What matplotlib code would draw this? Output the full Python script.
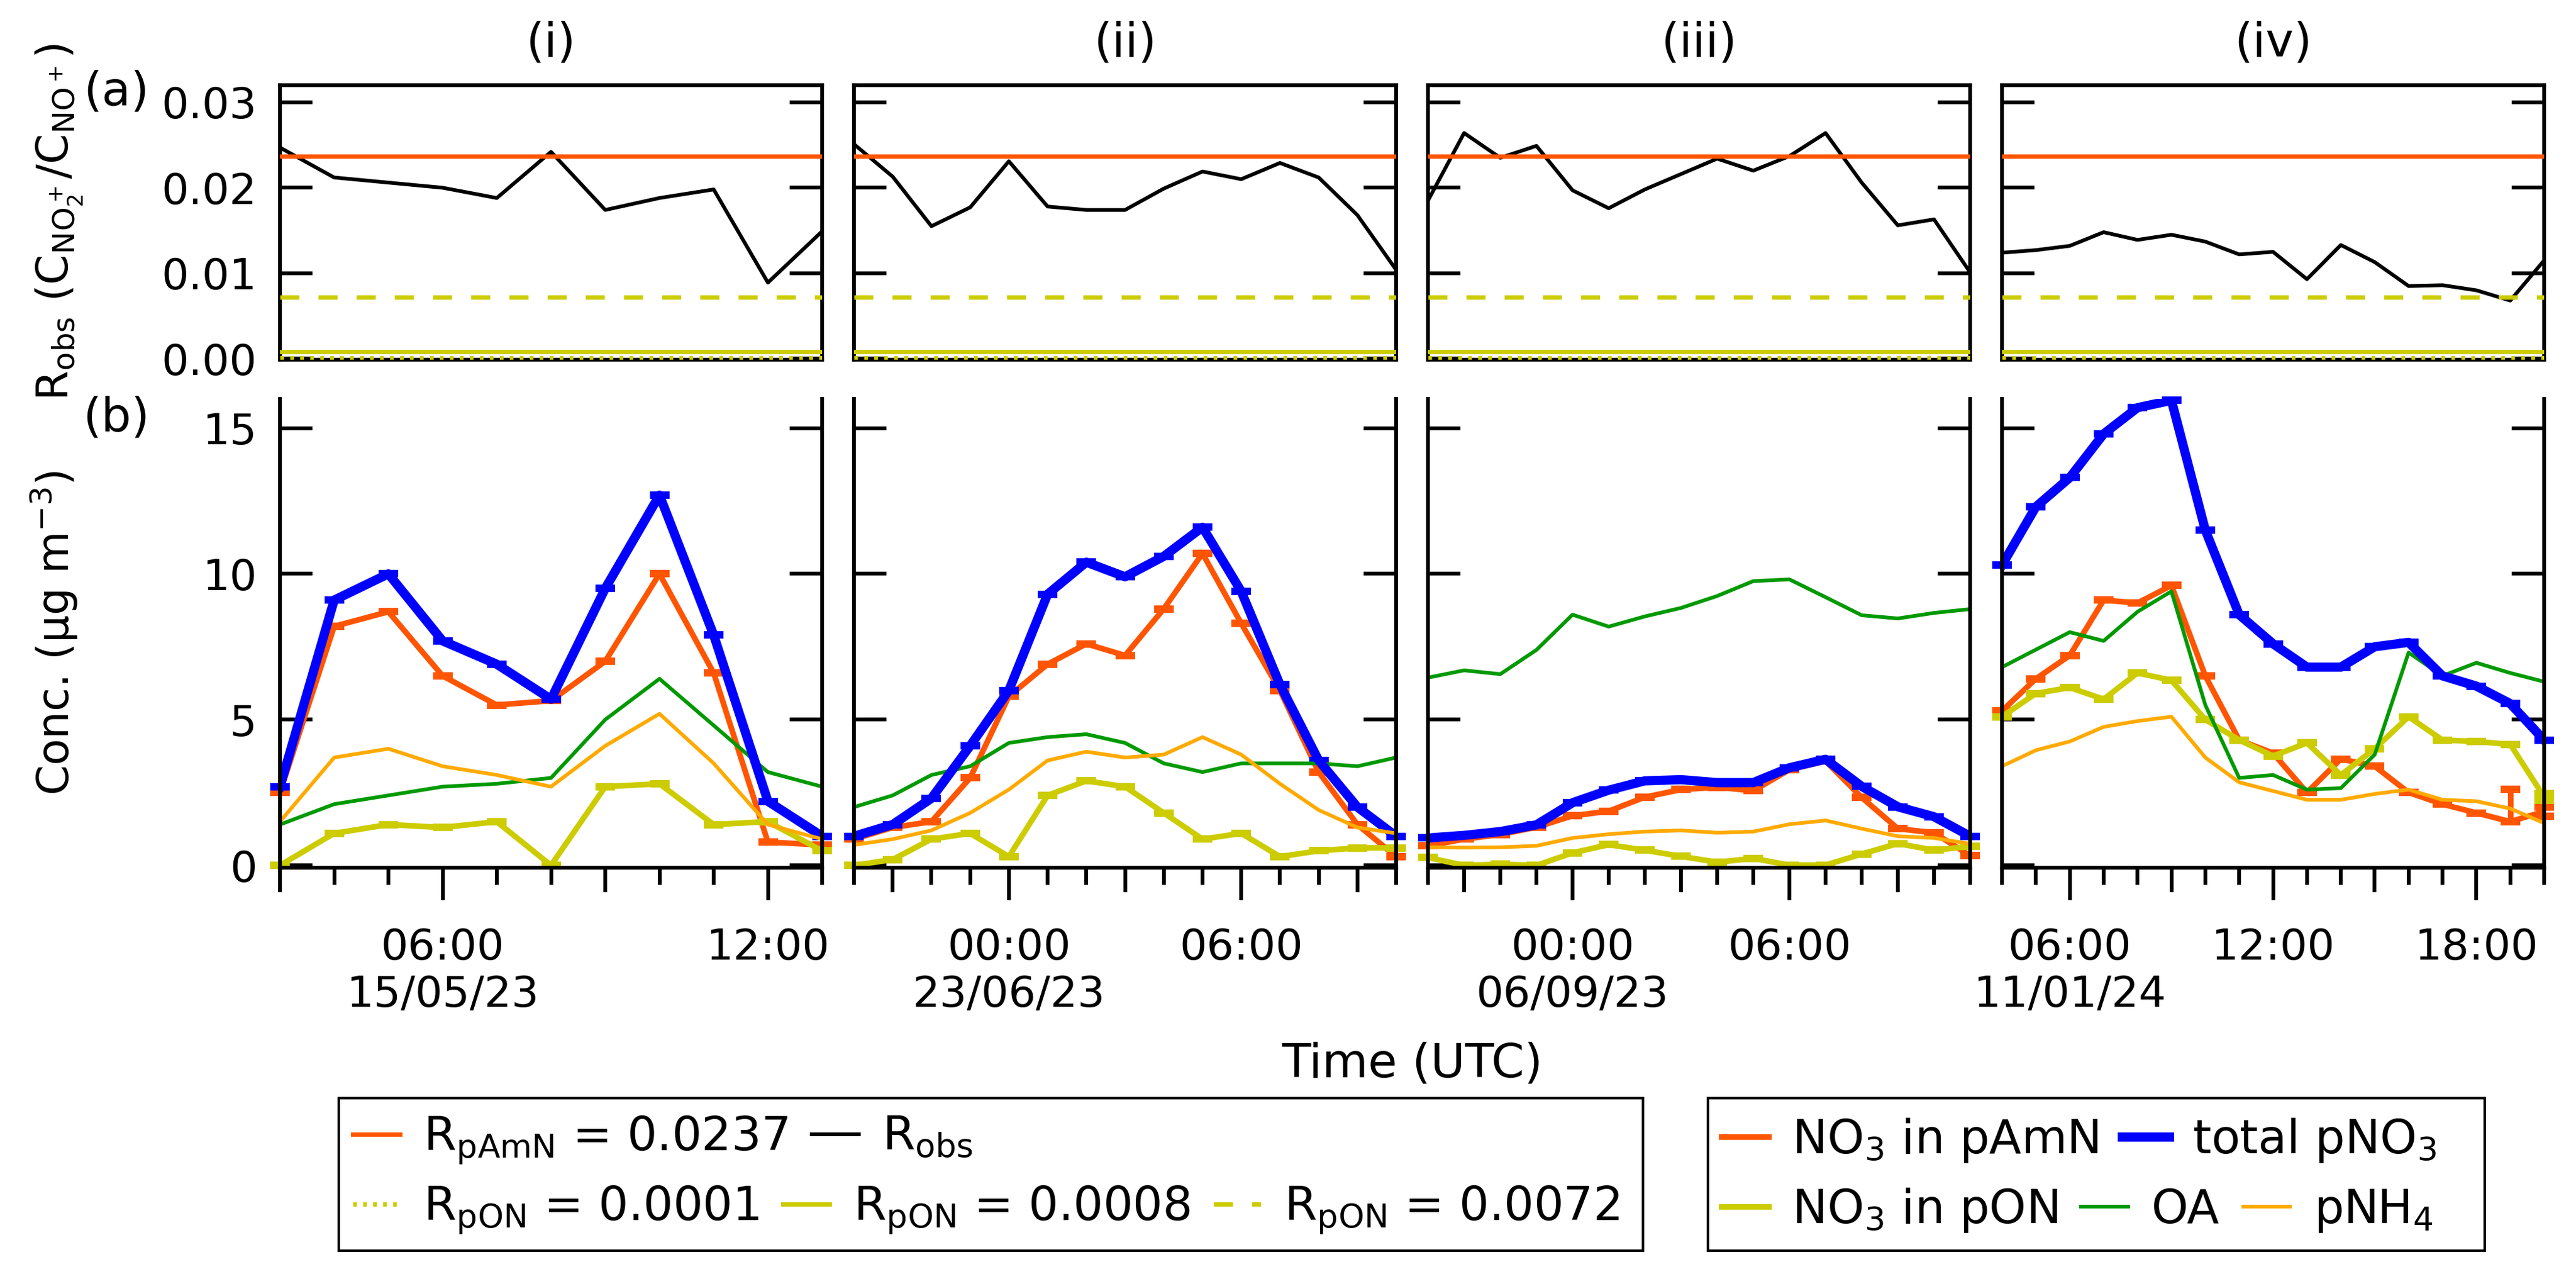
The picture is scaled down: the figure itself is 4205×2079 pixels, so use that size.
import matplotlib
matplotlib.use('Agg')
import matplotlib.pyplot as plt
import matplotlib.dates as mdates
from matplotlib.ticker import FuncFormatter
from matplotlib.patches import Rectangle
import numpy as np
import pandas as pd

plt.rcParams['font.family'] = ['DejaVu Sans']
plt.rcParams['mathtext.default'] = 'regular'

# ---------------- data ----------------
panel_names = ['(i)', '(ii)', '(iii)', '(iv)']
start_times = ['2023-05-15 03:00', '2023-06-22 20:00', '2023-09-05 20:00', '2024-01-11 04:00']

r_pamn = 0.0237
r_pon = [0.0001, 0.0008, 0.0072]

# (i) 15/05/23
r_obs_i = [0.0247, 0.0212, 0.0206, 0.0200, 0.0188, 0.0242, 0.0174, 0.0188, 0.0198, 0.0089, 0.0149]
total_i = [2.7, 9.1, 10.0, 7.7, 6.9, 5.7, 9.5, 12.7, 7.9, 2.2, 1.0]
pamn_i = [2.5, 8.2, 8.7, 6.5, 5.5, 5.65, 7.0, 10.0, 6.6, 0.8, 0.7]
pon_i = [0.0, 1.1, 1.4, 1.3, 1.5, 0.0, 2.7, 2.8, 1.4, 1.5, 0.5]
oa_i = [1.4, 2.1, 2.4, 2.7, 2.8, 3.0, 5.0, 6.4, 4.8, 3.2, 2.7]
nh4_i = [1.5, 3.7, 4.0, 3.4, 3.1, 2.7, 4.1, 5.2, 3.5, 1.4, 0.9]

# (ii) 23/06/23
r_obs_ii = [0.0251, 0.0213, 0.0155, 0.0177, 0.0231, 0.0178, 0.0174, 0.0174, 0.0199, 0.0219,
            0.0210, 0.0229, 0.0212, 0.0168, 0.0104]
total_ii = [1.0, 1.4, 2.3, 4.1, 6.0, 9.3, 10.4, 9.9, 10.6, 11.6, 9.4, 6.2, 3.6, 2.0, 1.0]
pamn_ii = [0.9, 1.3, 1.5, 3.0, 5.8, 6.9, 7.6, 7.2, 8.8, 10.7, 8.3, 6.0, 3.2, 1.4, 0.3]
pon_ii = [0.0, 0.2, 0.9, 1.1, 0.3, 2.4, 2.9, 2.7, 1.8, 0.9, 1.1, 0.3, 0.5, 0.6, 0.6]
oa_ii = [2.0, 2.4, 3.1, 3.4, 4.2, 4.4, 4.5, 4.2, 3.5, 3.2, 3.5, 3.5, 3.5, 3.4, 3.7]
nh4_ii = [0.7, 0.9, 1.2, 1.8, 2.6, 3.6, 3.9, 3.7, 3.8, 4.4, 3.8, 2.8, 1.9, 1.3, 1.1]

# (iii) 06/09/23
r_obs_iii = [0.0185, 0.0264, 0.0235, 0.0249, 0.0197, 0.0176, 0.0198, 0.0216, 0.0234, 0.0220,
             0.0237, 0.0264, 0.0206, 0.0156, 0.0163, 0.0101]
total_iii = [0.94, 1.03, 1.16, 1.39, 2.15, 2.58, 2.90, 2.94, 2.84, 2.84, 3.35, 3.64, 2.71, 2.01, 1.67, 1.0]
pamn_iii = [0.67, 0.9, 1.06, 1.31, 1.70, 1.86, 2.34, 2.6, 2.68, 2.56, 3.28, 3.58, 2.33, 1.26, 1.12, 0.33]
pon_iii = [0.27, 0.0, 0.04, 0.0, 0.43, 0.71, 0.52, 0.31, 0.11, 0.24, 0.01, 0.01, 0.39, 0.75, 0.52, 0.65]
oa_iii = [6.44, 6.69, 6.56, 7.39, 8.60, 8.19, 8.54, 8.83, 9.24, 9.75, 9.81, 9.2, 8.58, 8.47, 8.66, 8.79]
nh4_iii = [0.62, 0.61, 0.62, 0.67, 0.94, 1.07, 1.16, 1.2, 1.12, 1.16, 1.41, 1.54, 1.26, 1.0, 0.94, 0.74]

# (iv) 11/01/24
r_obs_iv = [0.0124, 0.0127, 0.0132, 0.0148, 0.0139, 0.0145, 0.0137, 0.0122, 0.0125, 0.0093,
            0.0133, 0.0113, 0.0085, 0.0086, 0.0080, 0.0068, 0.0115]
total_iv = [10.3, 12.3, 13.3, 14.8, 15.7, 15.95, 11.5, 8.6, 7.6, 6.8, 6.8, 7.5, 7.65, 6.5, 6.15, 5.55, 4.3]
pamn_iv = [5.3, 6.4, 7.2, 9.1, 9.0, 9.6, 6.5, 4.3, 3.85, 2.5, 3.65, 3.4, 2.5, 2.1, 1.8, 1.5, 1.85]
pon_iv = [5.1, 5.9, 6.1, 5.7, 6.6, 6.35, 5.0, 4.3, 3.75, 4.2, 3.1, 4.0, 5.1, 4.3, 4.25, 4.15, 2.35]
oa_iv = [6.8, 7.4, 8.0, 7.7, 8.7, 9.4, 5.5, 3.0, 3.1, 2.6, 2.65, 3.8, 7.3, 6.5, 6.95, 6.6, 6.3]
nh4_iv = [3.4, 3.95, 4.25, 4.75, 4.95, 5.1, 3.7, 2.85, 2.55, 2.25, 2.25, 2.45, 2.6, 2.25, 2.2, 1.95, 1.45]

# error bars (lower, upper); only a few are visible
pamn_err_lo_iv = [0] * 16 + [0.16]
pamn_err_hi_iv = [0] * 15 + [1.1, 0.16]
pon_err_iv = [0] * 16 + [0.12]

r_obs_all = [r_obs_i, r_obs_ii, r_obs_iii, r_obs_iv]
total_all = [total_i, total_ii, total_iii, total_iv]
pamn_all = [pamn_i, pamn_ii, pamn_iii, pamn_iv]
pon_all = [pon_i, pon_ii, pon_iii, pon_iv]
oa_all = [oa_i, oa_ii, oa_iii, oa_iv]
nh4_all = [nh4_i, nh4_ii, nh4_iii, nh4_iv]

c_amn = '#FF5500'
c_tot = '#0000FF'
c_pon = '#CCCC00'
c_oa = '#009900'
c_nh4 = '#FFAA00'

# ---------------- figure ----------------
W, H = 4205, 2079
fig = plt.figure(figsize=(W / 300, H / 300), dpi=300)

left0, step, width = 457, 937, 885
tick_fs = 16.8
lab_fs = 18.5


def time_label(x, pos):
    d = mdates.num2date(x)
    s = d.strftime('%H:%M')
    if pos == 0:
        s += '\n' + d.strftime('%d/%m/%y')
    return s


bottom_axes = []
for k in range(4):
    x0 = (left0 + k * step) / W
    ax_top = fig.add_axes([x0, 1 - 587 / H, width / W, 448 / H])
    ax_bot = fig.add_axes([x0, 1 - 1416 / H, width / W, 765 / H], sharex=ax_top)
    bottom_axes.append(ax_bot)

    t = pd.date_range(start_times[k], periods=len(r_obs_all[k]), freq='h').to_pydatetime()
    n = len(t)

    # ---- (a) ratio panel
    h_obs, = ax_top.plot(t, r_obs_all[k], color='black', lw=1.45, zorder=2)
    h_amn = ax_top.axhline(r_pamn, color=c_amn, lw=1.7, zorder=3)
    h_p1 = ax_top.axhline(r_pon[0], color=c_pon, lw=1.7, ls=(0, (0.85, 1.45)), zorder=3)
    h_p2 = ax_top.axhline(r_pon[1], color=c_pon, lw=1.7, zorder=3)
    h_p3 = ax_top.axhline(r_pon[2], color=c_pon, lw=1.7, ls=(0, (4.4, 4.4)), zorder=3)

    # ---- (b) concentration panel
    if k == 3:
        err_amn = [pamn_err_lo_iv, pamn_err_hi_iv]
        err_pon = [pon_err_iv, pon_err_iv]
    else:
        err_amn = [np.zeros(n), np.zeros(n)]
        err_pon = [np.zeros(n), np.zeros(n)]
    zero = [np.zeros(n), np.zeros(n)]

    eb_amn = ax_bot.errorbar(t, pamn_all[k], yerr=err_amn, color=c_amn, lw=2.2,
                             elinewidth=2.2, capsize=3.85, capthick=2.9, zorder=2)
    eb_pon = ax_bot.errorbar(t, pon_all[k], yerr=err_pon, color=c_pon, lw=2.2,
                             elinewidth=2.2, capsize=3.85, capthick=2.9, zorder=2.1)
    eb_tot = ax_bot.errorbar(t, total_all[k], yerr=zero, color=c_tot, lw=3.6,
                             elinewidth=2.2, capsize=3.95, capthick=2.9, zorder=2.2)
    h_oa, = ax_bot.plot(t, oa_all[k], color=c_oa, lw=1.45, zorder=2.3)
    h_nh4, = ax_bot.plot(t, nh4_all[k], color=c_nh4, lw=1.45, zorder=2.4)
    for eb in (eb_amn, eb_pon, eb_tot):
        for cl in eb[1]:
            cl.set_clip_on(False)

    # ---- axes styling
    ax_top.set_xlim(t[0], t[-1])
    ax_top.set_ylim(-0.00012, 0.032)
    ax_top.set_yticks([0.0, 0.01, 0.02, 0.03])
    ax_top.yaxis.set_major_formatter(FuncFormatter(lambda v, p: f'{v:.2f}'))
    ax_bot.set_ylim(-0.08, 16.0)
    ax_bot.set_yticks([0, 5, 10, 15])

    for ax in (ax_top, ax_bot):
        for sp in ax.spines.values():
            sp.set_linewidth(1.5)
        ax.tick_params(axis='y', which='major', direction='in', left=True, right=True,
                       length=12.7, width=1.5, labelsize=tick_fs, pad=9,
                       labelleft=(k == 0))
    ax_bot.spines['top'].set_visible(False)
    ax_top.tick_params(axis='x', which='both', bottom=False, top=False, labelbottom=False)

    ax_bot.xaxis.set_major_locator(mdates.HourLocator(byhour=range(0, 24, 6)))
    ax_bot.xaxis.set_minor_locator(mdates.HourLocator())
    ax_bot.xaxis.set_major_formatter(FuncFormatter(time_label))
    ax_bot.tick_params(axis='x', which='major', direction='out', length=12.7, width=1.5,
                       labelsize=tick_fs, pad=10.5, labelbottom=True)
    ax_bot.tick_params(axis='x', which='minor', direction='out', length=6.7, width=1.5)

    ax_top.text(0.5, (587 - 70) / 448, panel_names[k], transform=ax_top.transAxes,
                ha='center', va='center', fontsize=lab_fs)

# medium ticks every 3 h
for ax in bottom_axes:
    locs = ax.xaxis.get_minorticklocs()
    ticks = ax.xaxis.get_minor_ticks(len(locs))
    for loc, tk in zip(locs, ticks):
        if mdates.num2date(loc).hour % 3 == 0:
            tk.tick1line.set_markersize(9.6)

# ---- labels
fig.text(190 / W, 1 - 150 / H, '(a)', ha='center', va='center', fontsize=lab_fs)
fig.text(190 / W, 1 - 682 / H, '(b)', ha='center', va='center', fontsize=lab_fs)
fig.text(97 / W, 1 - 363 / H, r'R$_{obs}$ (C$_{NO_2^+}$/C$_{NO^+}$)', rotation=90,
         ha='center', va='center', fontsize=17)
fig.text(88 / W, 1 - 1033 / H, r'Conc. (µg m$^{-3}$)', rotation=90,
         ha='center', va='center', fontsize=17)
fig.text((457 + 4153) / 2 / W, 1 - 1736 / H, 'Time (UTC)', ha='center', va='center',
         fontsize=lab_fs)

# ---- legends (two flowing rows inside a frame each)
leg_kw = dict(loc='center left', frameon=False, fontsize=18.4, handlelength=1.0,
              handletextpad=0.5, columnspacing=0.5, borderpad=0, borderaxespad=0)
row_y = [1 - 1861 / H, 1 - 1975 / H]

fig.legend([h_amn, h_obs], [r'R$_{pAmN}$ = 0.0237', r'R$_{obs}$'], ncol=2,
           bbox_to_anchor=(576 / W, row_y[0]), **leg_kw)
fig.legend([h_p1, h_p2, h_p3],
           [r'R$_{pON}$ = 0.0001', r'R$_{pON}$ = 0.0008', r'R$_{pON}$ = 0.0072'], ncol=3,
           bbox_to_anchor=(576 / W, row_y[1]), **leg_kw)
fig.legend([eb_amn[0], eb_tot[0]], [r'NO$_3$ in pAmN', r'total pNO$_3$'], ncol=2,
           bbox_to_anchor=(2810 / W, row_y[0]), **leg_kw)
fig.legend([eb_pon[0], h_oa, h_nh4], [r'NO$_3$ in pON', 'OA', r'pNH$_4$'], ncol=3,
           bbox_to_anchor=(2810 / W, row_y[1]), **leg_kw)

for x_a, x_b in [(553, 2682), (2788, 4056)]:
    fig.add_artist(Rectangle((x_a / W, 1 - 2041 / H), (x_b - x_a) / W, 249 / H,
                             transform=fig.transFigure, fill=False, lw=1.0, ec='black'))

fig.savefig('out.png', dpi=300)
